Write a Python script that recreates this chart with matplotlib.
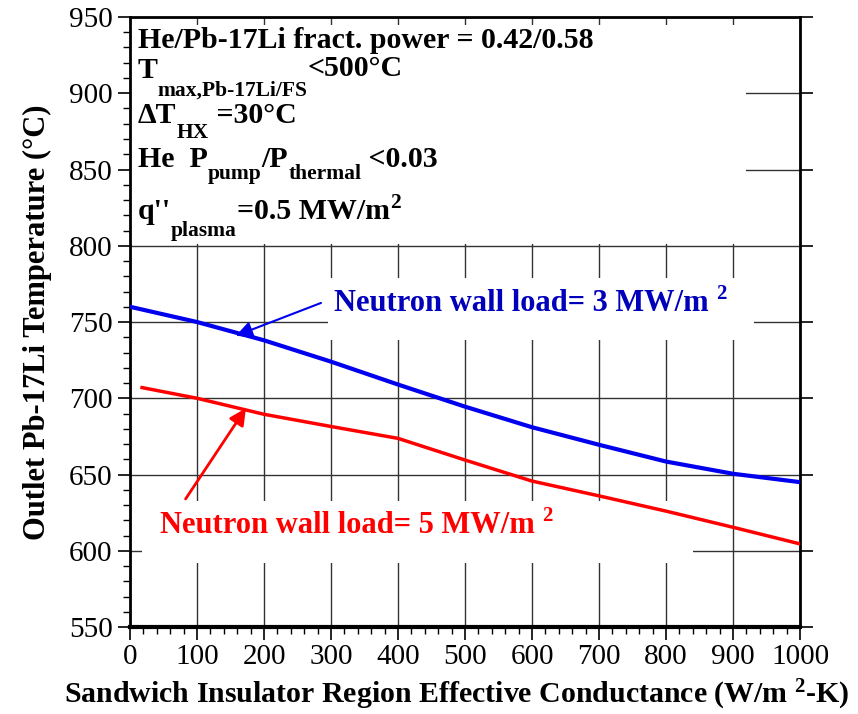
import matplotlib
matplotlib.use("Agg")
import matplotlib.pyplot as plt
from matplotlib import transforms
from matplotlib.patches import Rectangle
from matplotlib.ticker import MultipleLocator

# data
cond = [0, 100, 200, 300, 400, 500, 600, 700, 800, 900, 1000]
t_nwl3 = [760, 750, 738, 724, 709, 694.5, 681, 669.5, 658.5, 650.5, 645]
cond_5 = [18, 100, 200, 300, 400, 500, 600, 700, 800, 900, 1000]
t_nwl5 = [707, 700, 689.5, 681.5, 673.7, 659.5, 645.7, 636, 626, 615.4, 604.5]

plt.rcParams['font.family'] = ['Liberation Serif', 'DejaVu Serif']
plt.rcParams['mathtext.fontset'] = 'custom'
plt.rcParams['mathtext.rm'] = 'Liberation Serif:bold'
plt.rcParams['mathtext.it'] = 'Liberation Serif:bold'
plt.rcParams['mathtext.bf'] = 'Liberation Serif:bold'

fig = plt.figure(figsize=(8.58, 7.14), dpi=100)
ax = fig.add_axes([0.1515, 0.1218, 0.781, 0.8544])
rend = fig.canvas.get_renderer()


def rich(x, y, parts, color='black'):
    # parts: (text, vertical shift in pixels, fontsize), drawn left to right
    dx = 0
    for s, dy, size in parts:
        tr = transforms.offset_copy(ax.transData, fig=fig, x=dx, y=dy, units='dots')
        t = ax.text(x, y, s, transform=tr, fontsize=size, fontweight='bold',
                    color=color, va='baseline', ha='left', zorder=5)
        dx += t.get_window_extent(rend).width


ax.set_xlim(0, 1000)
ax.set_ylim(550, 950)
ax.xaxis.set_major_locator(MultipleLocator(100))
ax.xaxis.set_minor_locator(MultipleLocator(20))
ax.yaxis.set_major_locator(MultipleLocator(50))
ax.yaxis.set_minor_locator(MultipleLocator(10))
ax.grid(True, which='major', color='#333333', linewidth=1.0, zorder=0)
ax.set_axisbelow(True)

ax.tick_params(axis='both', which='major', labelsize=21, length=9, width=1.2, direction='out')
ax.tick_params(axis='both', which='minor', length=5, width=1.0, direction='out')
ax.tick_params(top=True, right=True, which='major')
ax.tick_params(axis='x', which='both', top=False)

for s in ax.spines.values():
    s.set_linewidth(2)
ax.spines['bottom'].set_linewidth(3)

# white boxes hiding the grid behind the texts
for (x0, y0, w, h) in [(0, 0.628, 0.919, 0.359), (0.296, 0.470, 0.635, 0.102),
                       (0.018, 0.105, 0.822, 0.102)]:
    ax.add_patch(Rectangle((x0, y0), w, h, transform=ax.transAxes,
                           facecolor='white', edgecolor='none', zorder=1))

ax.plot(cond, t_nwl3, color='#0000ee', linewidth=3, zorder=3)
ax.plot(cond_5, t_nwl5, color='#ff0000', linewidth=2.5, zorder=3)

rich(12, 929.7, [("He/Pb-17Li fract. power = 0.42/0.58", 0, 21.5)])
rich(12, 910, [("T", 0, 21.5), ("max,Pb-17Li/FS", -18, 15.5), ("<500°C", 2, 21.5)])
rich(12, 880.5, [("ΔT", 0, 21.5), ("HX", -15, 15.5), (" =30°C", 0, 21.5)])
rich(12, 851.6, [("He  P", 0, 21.5), ("pump", -12, 15.5), ("/P", 0, 21.5),
                 ("thermal", -12, 15.5), (" <0.03", 0, 21.5)])
rich(12, 817.5, [("q''", 0, 21.5), ("plasma", -17, 15.5), ("=0.5 MW/m", 0, 21.5),
                 ("2", 11, 15.5)])

rich(305, 757, [("Neutron wall load= 3 MW/m ", 0, 22), ("2", 12, 15)], color='#0000bb')
rich(45, 611.5, [("Neutron wall load= 5 MW/m ", 0, 22), ("2", 12, 15)], color='#ff0000')

ax.annotate("", xy=(158, 741), xytext=(285, 762.5),
            arrowprops=dict(arrowstyle='-|>', color='#0000ee', lw=1.5,
                            mutation_scale=25, shrinkA=0, shrinkB=0), zorder=5)
ax.annotate("", xy=(173, 693.5), xytext=(83, 634),
            arrowprops=dict(arrowstyle='-|>', color='#ff0000', lw=2,
                            mutation_scale=25, shrinkA=0, shrinkB=0), zorder=5)

ax.set_xlabel("Sandwich Insulator Region Effective Conductance (W/m $^{2}$-K)",
              fontsize=21.5, fontweight='bold')
ax.xaxis.set_label_coords(0.488, -0.083)
ax.set_ylabel("Outlet Pb-17Li Temperature (°C)", fontsize=22, fontweight='bold',
              labelpad=12)

fig.savefig("out.png", dpi=100)
